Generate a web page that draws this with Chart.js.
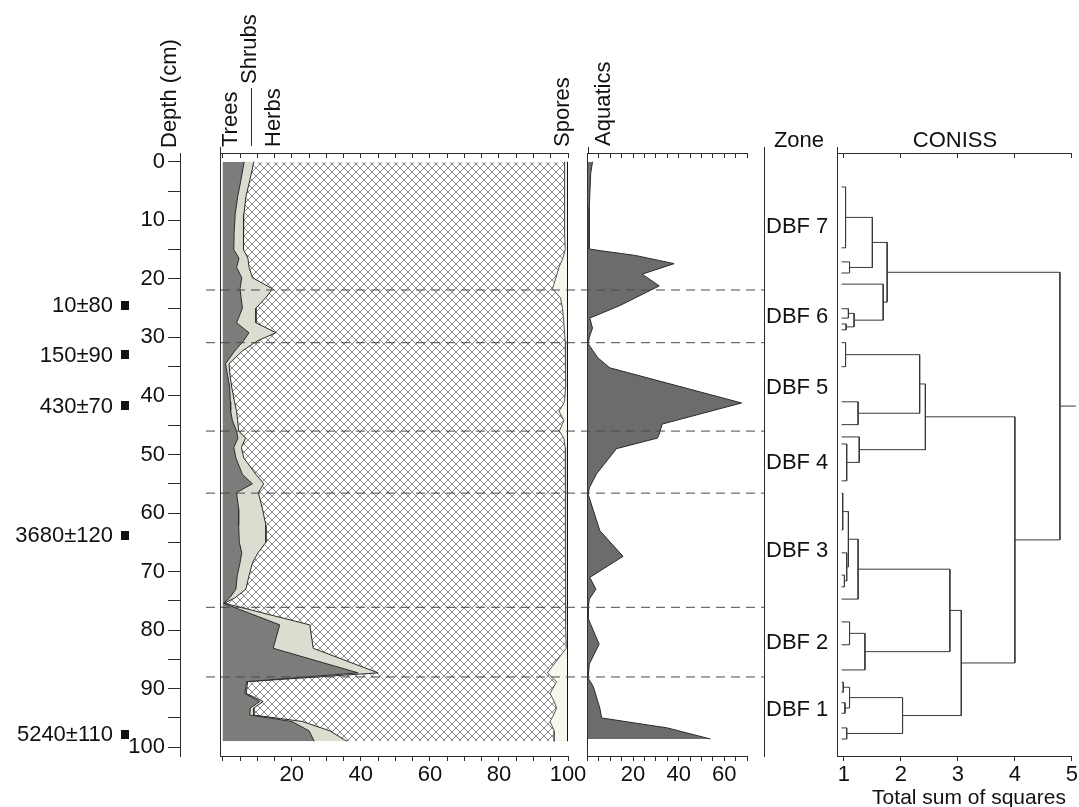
<!DOCTYPE html>
<html>
<head>
<meta charset="utf-8">
<title>Pollen diagram</title>
<script src="https://cdn.jsdelivr.net/npm/chart.js@4.4.1/dist/chart.umd.min.js"></script>
<style>
  html, body { margin: 0; padding: 0; background: #fff; }
  #stage { position: relative; width: 1079px; height: 807px; overflow: hidden; background: #fff; }
  #stage canvas { position: absolute; left: 0; top: 0; }
</style>
</head>
<body>
<div id="stage">
  <canvas id="cDepth" width="1079" height="807"></canvas>
  <canvas id="cPollen" width="1079" height="807"></canvas>
  <canvas id="cAquatic" width="1079" height="807"></canvas>
  <canvas id="cConiss" width="1079" height="807"></canvas>
  <canvas id="cZones" width="1079" height="807"></canvas>
</div>
<script>
// ---------- data ----------
// sample depths (cm) and pollen group percentages
const depths = [0, 3, 6, 9, 12, 15, 16.5, 18, 19.8, 21.7, 23.2, 25, 27.5, 29.2, 30.6, 32.3, 34.5, 36.5, 38.5, 41,
  42.6, 44.2, 46, 47.2, 48.8, 50.6, 53.4, 55, 56.5, 59.3, 62.1, 65, 66.8, 68.5, 70.7, 73, 74.5, 75.4, 79.1, 83.1,
  87.3, 88.8, 90.8, 92.2, 93.3, 94.5, 95.6, 97.2, 99];
const trees = [6.2, 5.3, 4.3, 3.6, 3.3, 3.2, 4.7, 4.0, 5.5, 5.0, 5.3, 5.7, 4.0, 7.6, 6.0, 3.5, 0.8, 1.4, 2.0, 2.2,
  2.3, 2.8, 4.0, 4.4, 3.2, 3.8, 5.7, 8.6, 4.0, 4.6, 4.6, 4.8, 5.5, 5.0, 4.2, 3.8, 2.0, 0.2, 16.5, 14.6,
  39.2, 6.9, 6.4, 10.7, 8.0, 7.8, 20.0, 25.0, 26.5];
const shrubs = [2.8, 2.6, 2.4, 2.5, 2.7, 2.8, 2.6, 3.6, 3.1, 9.4, 7.2, 3.9, 5.6, 7.8, 4.0, 2.2, 1.0, 0.7, 0.6, 1.2,
  1.7, 1.5, 0.6, 2.2, 2.2, 2.3, 3.9, 3.3, 6.3, 6.9, 7.9, 7.7, 4.7, 3.6, 3.4, 2.9, 1.5, 0.2, 8.7, 11.6,
  5.8, 0.3, 0.4, 1.0, 1.0, 1.2, 3.0, 6.0, 9.5];
const herbs = [90.0, 91.1, 92.3, 92.9, 93.0, 93.2, 91.2, 89.8, 87.9, 81.1, 85.3, 88.8, 89.2, 83.6, 89.2, 93.6, 97.5, 97.2, 96.7, 95.6,
  93.4, 94.5, 92.9, 92.2, 93.8, 93.2, 89.7, 87.4, 89.0, 87.8, 86.8, 86.8, 89.1, 90.7, 91.7, 92.6, 95.8, 98.9, 74.1, 73.3,
  49.0, 89.5, 88.0, 84.3, 87.7, 86.8, 71.8, 65.0, 60.0];
const spores = [1.0, 1.0, 1.0, 1.0, 1.0, 0.8, 1.5, 2.6, 3.5, 4.5, 2.2, 1.6, 1.2, 1.0, 0.8, 0.7, 0.7, 0.7, 0.7, 1.0,
  2.6, 1.2, 2.5, 1.2, 0.8, 0.7, 0.7, 0.7, 0.7, 0.7, 0.7, 0.7, 0.7, 0.7, 0.7, 0.7, 0.7, 0.7, 0.7, 0.5,
  6.0, 3.3, 5.2, 4.0, 3.3, 4.2, 5.2, 4.0, 4.0];

// aquatic pollen (%)
const aqDepths = [0, 2, 7.8, 14.9, 15.2, 16, 17.4, 19.2, 21.2, 24.6, 26.7, 28.4, 30, 31.1, 33.5, 35.2, 41.2, 44.8, 46.5, 47.2,
  49, 53.3, 55.7, 56.8, 63, 67.4, 71, 73, 74.7, 76.2, 78, 82.4, 85.8, 88.2, 89.6, 93.3, 95, 96.7, 98.6];
const aquatics = [2.2, 1.4, 0.8, 0.8, 6, 21, 38, 24, 31.5, 14, 1, 2.2, 0.8, 0.3, 4.6, 9.8, 67.6, 32.8, 31.5, 30.7,
  12.7, 4, 0.8, 0.3, 5.4, 15.6, 1, 3.7, 0.8, 0.3, 0.3, 5.1, 0.8, 0.3, 2.5, 5.4, 6.2, 35, 54];

// radiocarbon dates
const dateDepths = [24.5, 33, 41.7, 63.8, 97.8];
const dateLabels = ['10\u00B180', '150\u00B190', '430\u00B170', '3680\u00B1120', '5240\u00B1110'];

// zonation
const zoneBounds = [21.9, 30.9, 46.0, 56.6, 76.1, 88.0];
const zoneNames = ['DBF 7', 'DBF 6', 'DBF 5', 'DBF 4', 'DBF 3', 'DBF 2', 'DBF 1'];
const zoneTop = 0, zoneBase = 99;

// CONISS: leaf depths and merges [childA, childB, total sum of squares]
const leafDepths = [4.3, 14.7, 17.1, 19.0, 20.9, 25.1, 26.7, 27.7, 28.7,
  30.9, 35.0, 41.0, 44.9, 47.0, 48.2, 54.5,
  56.6, 62.9, 66.8, 70.6, 72.6, 74.7,
  78.6, 82.5, 86.8,
  88.9, 90.6, 92.4, 94.2, 96.7, 98.6];
const merges = [
  [0, 1, 1.03], [2, 3, 1.10], [31, 32, 1.50], [5, 6, 1.08], [7, 8, 1.04], [34, 35, 1.18], [4, 36, 1.69], [33, 37, 1.76],
  [9, 10, 1.03], [11, 12, 1.25], [39, 40, 2.33], [14, 15, 1.05], [13, 42, 1.27], [41, 43, 2.43],
  [16, 17, 0.98], [19, 20, 1.01], [18, 46, 1.05], [45, 47, 1.08], [48, 21, 1.25],
  [22, 23, 1.10], [50, 24, 1.37], [49, 51, 2.86],
  [25, 26, 0.99], [27, 28, 1.02], [53, 54, 1.10], [29, 30, 1.05], [55, 56, 2.03],
  [52, 57, 3.06], [44, 58, 4.00], [38, 59, 4.79]
];
const leafLevel = 0.96;
const rootEnd = 5.07;

// axis ticks
const depthTicks = [0, 5, 10, 15, 20, 25, 30, 35, 40, 45, 50, 55, 60, 65, 70, 75, 80, 85, 90, 95, 100];
const depthLabelled = [0, 10, 20, 30, 40, 50, 60, 70, 80, 90, 100];
const pollenTicks = [0, 5, 10, 15, 20, 25, 30, 35, 40, 45, 50, 55, 60, 65, 70, 75, 80, 85, 90, 95, 100];
const pollenLabelled = [20, 40, 60, 80, 100];
const aquaticTicks = [0, 5, 10, 15, 20, 25, 30, 35, 40, 45, 50, 55, 60, 65, 70];
const aquaticLabelled = [20, 40, 60];
const conissTicks = [1, 2, 3, 4, 5];

// ---------- layout & style ----------
const W = 1079, H = 807;
const AREA_TOP = 153, AREA_BOTTOM = 756;
const DEPTH_LEFT = 180;
const DEPTH_MIN = -1.5, DEPTH_MAX = 101.5;
const FONT = "'Liberation Sans', Arial, Helvetica, sans-serif";
const INK = '#111';
const LINE = '#2b2b2b';
const C_TREES = '#7c7c7a';
const C_SHRUBS = '#dcdcd0';
const C_SPORES = '#f7f7ee';
const C_AQUATIC = '#6c6c6c';

Chart.defaults.font.family = FONT;
Chart.defaults.font.size = 22;
Chart.defaults.color = INK;
Chart.defaults.animation = false;
Chart.defaults.responsive = false;
Chart.defaults.events = [];
Chart.defaults.plugins.legend.display = false;
Chart.defaults.plugins.tooltip.enabled = false;
Chart.defaults.elements.point.radius = 0;
Chart.defaults.elements.line.tension = 0;
Chart.defaults.layout.autoPadding = false;

// padding that places the plotting area; axes carrying labels get a real box size
function pad(left, right, labelledBottom, labelledLeft) {
  return {
    left: labelledLeft ? 0 : left,
    right: W - right,
    top: AREA_TOP,
    bottom: labelledBottom ? 0 : H - AREA_BOTTOM
  };
}
function fixedTicks(values) {
  return function (s) { s.ticks = values.map(v => ({ value: v })); };
}
function depthScale(extra) {
  return Object.assign({
    type: 'linear', reverse: true, min: DEPTH_MIN, max: DEPTH_MAX,
    afterFit(s) { s.width = 0; }
  }, extra);
}
function bottomAxis(min, max, ticks, labelled) {
  return {
    type: 'linear', position: 'bottom', min: min, max: max,
    afterBuildTicks: fixedTicks(ticks),
    afterFit(s) { s.height = H - AREA_BOTTOM; },
    ticks: {
      autoSkip: false, maxRotation: 0, minRotation: 0, padding: 1, color: INK, font: { size: 22 },
      callback: v => labelled.includes(v) ? String(v) : ''
    },
    grid: { drawOnChartArea: false, drawTicks: true, tickLength: 5, color: LINE, lineWidth: 1 },
    border: { display: true, color: LINE, width: 1 }
  };
}
function topAxis(min, max, ticks) {
  return {
    type: 'linear', position: 'top', axis: 'x', min: min, max: max,
    afterBuildTicks: fixedTicks(ticks),
    afterFit(s) { s.height = 0; },
    ticks: { display: false },
    grid: { drawOnChartArea: false, drawTicks: true, tickLength: -5, color: LINE, lineWidth: 1 },
    border: { display: true, color: LINE, width: 1 }
  };
}
const frameLeft = {
  type: 'linear', position: 'left', reverse: true, min: DEPTH_MIN, max: DEPTH_MAX,
  afterFit(s) { s.width = 0; },
  ticks: { display: false },
  grid: { display: false },
  border: { display: true, color: LINE, width: 1 }
};

// rotated header text, running upward from (x, yBottom)
function upText(ctx, text, x, yBottom, size) {
  ctx.save();
  ctx.translate(x, yBottom);
  ctx.rotate(-Math.PI / 2);
  ctx.font = size + 'px ' + FONT;
  ctx.fillStyle = INK;
  ctx.textAlign = 'left';
  ctx.textBaseline = 'middle';
  ctx.fillText(text, 0, 0);
  ctx.restore();
}
// short continuation of a panel's left frame above the plotting area
function frameStub(chart) {
  const ctx = chart.ctx, a = chart.chartArea;
  ctx.save();
  ctx.strokeStyle = LINE; ctx.lineWidth = 1;
  ctx.beginPath();
  ctx.moveTo(Math.round(a.left) + 0.5, 147);
  ctx.lineTo(Math.round(a.left) + 0.5, a.top);
  ctx.stroke();
  ctx.restore();
}

// crosshatch used for the herb group
function makeHatch() {
  const c = document.createElement('canvas');
  c.width = 8; c.height = 8;
  const g = c.getContext('2d');
  g.fillStyle = '#ffffff';
  g.fillRect(0, 0, 8, 8);
  g.strokeStyle = '#7a7a7a';
  g.lineWidth = 0.9;
  g.beginPath();
  g.moveTo(0, 0); g.lineTo(8, 8);
  g.moveTo(8, 0); g.lineTo(0, 8);
  g.stroke();
  return g.createPattern(c, 'repeat');
}

// ---------- depth axis and dates ----------
new Chart(document.getElementById('cDepth'), {
  type: 'line',
  data: { datasets: [] },
  options: {
    layout: { padding: pad(DEPTH_LEFT, 200, false, true) },
    scales: {
      x: { type: 'linear', display: false, min: 0, max: 1 },
      y: {
        type: 'linear', reverse: true, min: DEPTH_MIN, max: DEPTH_MAX, position: 'left',
        afterFit(s) { s.width = DEPTH_LEFT; },
        afterBuildTicks: fixedTicks(depthTicks),
        ticks: {
          autoSkip: false, padding: 3, color: INK, font: { size: 22 },
          callback: v => depthLabelled.includes(v) ? String(v) : ''
        },
        grid: { drawOnChartArea: false, drawTicks: true, tickLength: 12, color: LINE },
        border: { display: true, color: LINE, width: 1 }
      }
    }
  },
  plugins: [{
    id: 'depthText',
    afterDraw(chart) {
      const ctx = chart.ctx, y = chart.scales.y;
      upText(ctx, 'Depth (cm)', 170, 148, 22);
      ctx.save();
      ctx.font = '22px ' + FONT;
      ctx.fillStyle = INK;
      ctx.textAlign = 'right';
      ctx.textBaseline = 'middle';
      dateDepths.forEach((d, i) => {
        const py = y.getPixelForValue(d);
        ctx.fillText(dateLabels[i], 113, py + 1);
        ctx.fillRect(121, Math.round(py - 4.5), 8, 9);
      });
      ctx.restore();
    }
  }]
});

// ---------- pollen sum (cumulative groups) ----------
const cumTrees = trees.slice();
const cumShrubs = trees.map((t, i) => t + shrubs[i]);
const cumHerbs = cumShrubs.map((s, i) => s + herbs[i]);
const cumSpores = cumHerbs.map((h, i) => h + spores[i]);
const asPoints = arr => depths.map((d, i) => ({ x: arr[i], y: d }));

new Chart(document.getElementById('cPollen'), {
  type: 'line',
  data: {
    datasets: [
      { label: 'Trees', data: asPoints(cumTrees), fill: 'origin', backgroundColor: C_TREES, borderColor: LINE, borderWidth: 1 },
      { label: 'Shrubs', data: asPoints(cumShrubs), fill: '-1', backgroundColor: C_SHRUBS, borderColor: LINE, borderWidth: 1 },
      { label: 'Herbs', data: asPoints(cumHerbs), fill: '-1', backgroundColor: makeHatch(), borderColor: '#555', borderWidth: 1 },
      { label: 'Spores', data: asPoints(cumSpores), fill: '-1', backgroundColor: C_SPORES, borderColor: '#111', borderWidth: 2 }
    ]
  },
  options: {
    indexAxis: 'y',
    layout: { padding: pad(220, 568, true) },
    scales: {
      x: bottomAxis(-0.8, 100, pollenTicks, pollenLabelled),
      xTop: topAxis(-0.8, 100, pollenTicks),
      y: frameLeft
    }
  },
  plugins: [{
    id: 'pollenHeads',
    afterDraw(chart) {
      const ctx = chart.ctx;
      frameStub(chart);
      upText(ctx, 'Trees', 231, 147, 22);
      upText(ctx, 'Shrubs', 250, 84, 22);
      upText(ctx, 'Herbs', 274, 147, 22);
      upText(ctx, 'Spores', 563, 147, 22);
      ctx.save();
      ctx.strokeStyle = LINE; ctx.lineWidth = 1;
      ctx.beginPath(); ctx.moveTo(251.5, 88); ctx.lineTo(251.5, 146); ctx.stroke();
      ctx.restore();
    }
  }]
});

// ---------- aquatics ----------
new Chart(document.getElementById('cAquatic'), {
  type: 'line',
  data: {
    datasets: [
      { label: 'Aquatics', data: aqDepths.map((d, i) => ({ x: aquatics[i], y: d })), fill: 'origin',
        backgroundColor: C_AQUATIC, borderColor: LINE, borderWidth: 1 }
    ]
  },
  options: {
    indexAxis: 'y',
    layout: { padding: pad(587.5, 747, true) },
    scales: {
      x: bottomAxis(0, 70, aquaticTicks, aquaticLabelled),
      xTop: topAxis(0, 70, aquaticTicks),
      y: frameLeft
    }
  },
  plugins: [{
    id: 'aquaticHead',
    afterDraw(chart) {
      frameStub(chart);
      upText(chart.ctx, 'Aquatics', 604, 146, 22);
    }
  }]
});

// ---------- CONISS dendrogram ----------
const nodeDepth = leafDepths.slice();
const nodeLevel = leafDepths.map(() => leafLevel);
const dendroSets = merges.map(([a, b, h]) => {
  const set = {
    data: [
      { x: nodeLevel[a], y: nodeDepth[a] },
      { x: h, y: nodeDepth[a] },
      { x: h, y: nodeDepth[b] },
      { x: nodeLevel[b], y: nodeDepth[b] }
    ],
    borderColor: '#3a3a3a', borderWidth: 1, fill: false, clip: false
  };
  nodeDepth.push((nodeDepth[a] + nodeDepth[b]) / 2);
  nodeLevel.push(h);
  return set;
});
const rootIdx = nodeDepth.length - 1;
dendroSets.push({
  data: [{ x: nodeLevel[rootIdx], y: nodeDepth[rootIdx] }, { x: rootEnd, y: nodeDepth[rootIdx] }],
  borderColor: '#3a3a3a', borderWidth: 1, fill: false, clip: false
});

new Chart(document.getElementById('cConiss'), {
  type: 'line',
  data: { datasets: dendroSets },
  options: {
    layout: { padding: pad(837, 1076, true) },
    scales: {
      x: bottomAxis(0.88, 5, conissTicks, conissTicks),
      xTop: topAxis(0.88, 5, conissTicks),
      y: frameLeft
    }
  },
  plugins: [{
    id: 'conissText',
    afterDraw(chart) {
      const ctx = chart.ctx;
      frameStub(chart);
      ctx.save();
      ctx.fillStyle = INK;
      ctx.textAlign = 'center';
      ctx.textBaseline = 'alphabetic';
      ctx.font = '22px ' + FONT;
      ctx.fillText('CONISS', 955, 147);
      ctx.font = '21px ' + FONT;
      ctx.fillText('Total sum of squares', 969, 804);
      ctx.restore();
    }
  }]
});

// ---------- zone boundaries and labels ----------
new Chart(document.getElementById('cZones'), {
  type: 'line',
  data: {
    datasets: zoneBounds.map(b => ({
      data: [{ x: 0, y: b }, { x: 1, y: b }],
      borderColor: '#4a4a4a', borderWidth: 1, borderDash: [9, 6], fill: false
    }))
  },
  options: {
    layout: { padding: pad(206, 764) },
    scales: {
      x: { type: 'linear', display: false, min: 0, max: 1 },
      y: depthScale({
        position: 'right',
        ticks: { display: false },
        grid: { display: false },
        border: { display: true, color: LINE, width: 1 }
      })
    }
  },
  plugins: [{
    id: 'zoneText',
    afterDraw(chart) {
      const ctx = chart.ctx, y = chart.scales.y, a = chart.chartArea;
      ctx.save();
      ctx.strokeStyle = LINE; ctx.lineWidth = 1;
      ctx.beginPath();
      ctx.moveTo(Math.round(a.right) + 0.5, 147);
      ctx.lineTo(Math.round(a.right) + 0.5, a.top);
      ctx.stroke();
      ctx.fillStyle = INK;
      ctx.font = '22px ' + FONT;
      ctx.textAlign = 'center';
      ctx.textBaseline = 'alphabetic';
      ctx.fillText('Zone', 799, 147);
      ctx.textAlign = 'left';
      ctx.textBaseline = 'middle';
      const edges = [zoneTop].concat(zoneBounds, [zoneBase]);
      zoneNames.forEach((name, i) => {
        const mid = (edges[i] + edges[i + 1]) / 2;
        ctx.fillText(name, 766, y.getPixelForValue(mid) + 1);
      });
      ctx.restore();
    }
  }]
});
</script>
</body>
</html>
